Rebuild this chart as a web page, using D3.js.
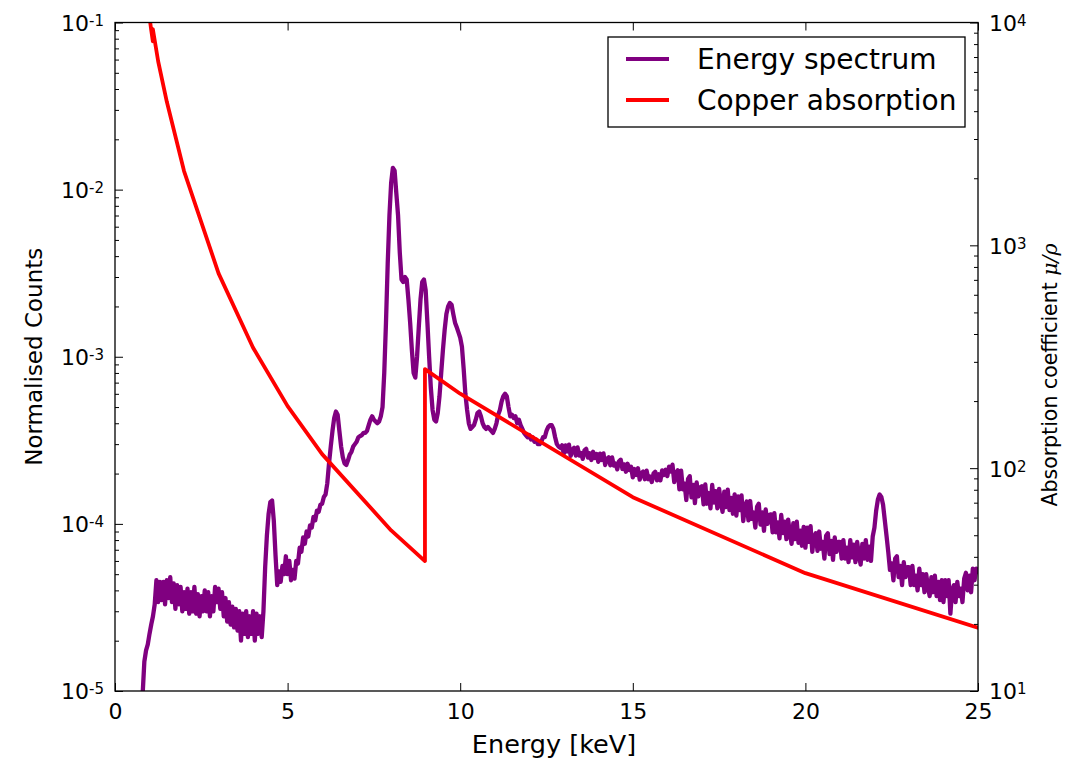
<!DOCTYPE html>
<html>
<head>
<meta charset="utf-8">
<script src="https://cdn.jsdelivr.net/npm/d3@7"></script>
<style>
  body { margin: 0; background: #fff; }
  text { font-family: "DejaVu Sans", sans-serif; fill: #000; }
</style>
</head>
<body>
<svg id="chart" width="1084" height="760"></svg>
<script>
// Energy spectrum: channel grid starts at 0.80 keV with 0.05 keV bins.
const energyStart = 0.8;
const energyStep = 0.05;
// Normalised counts per bin, one row per keV
const spectrumCounts = [
  0.95e-5, 1.5e-5, 1.75e-5, 1.9e-5,
  2.2e-5, 2.5e-5, 2.8e-5, 3.3e-5, 4.6e-5, 3.4e-5, 4.5e-5, 3.5e-5, 4.5e-5, 3.3e-5, 4.6e-5, 3.6e-5, 4.8e-5, 3.4e-5, 4.4e-5, 3.1e-5, 4.3e-5, 3.3e-5, 4.2e-5, 3.0e-5,
  3.9e-5, 3.1e-5, 4.1e-5, 2.9e-5, 3.9e-5, 3.0e-5, 4.2e-5, 2.9e-5, 3.8e-5, 2.8e-5, 3.7e-5, 3.0e-5, 4.0e-5, 3.0e-5, 3.9e-5, 2.8e-5, 3.7e-5, 3.0e-5, 4.2e-5, 3.4e-5,
  4.1e-5, 3.1e-5, 3.9e-5, 2.8e-5, 3.6e-5, 2.6e-5, 3.4e-5, 2.5e-5, 3.2e-5, 2.4e-5, 3.1e-5, 2.3e-5, 3.0e-5, 2.0e-5, 2.9e-5, 2.2e-5, 3.0e-5, 2.1e-5, 2.8e-5, 2.2e-5,
  3.0e-5, 2.0e-5, 2.9e-5, 2.2e-5, 2.8e-5, 2.1e-5, 3.0e-5, 5.5e-5, 8.5e-5, 1.15e-4, 1.35e-4, 1.38e-4, 1.05e-4, 6.5e-5, 4.3e-5, 5.2e-5, 4.5e-5, 5.6e-5, 5.0e-5, 6.4e-5,
  5.0e-5, 6.0e-5, 4.6e-5, 5.3e-5, 4.7e-5, 6.0e-5, 5.8e-5, 7.2e-5, 6.8e-5, 8.3e-5, 7.6e-5, 9.0e-5, 8.4e-5, 9.8e-5, 9.5e-5, 1.1e-4, 1.05e-4, 1.2e-4, 1.18e-4, 1.3e-4,
  1.32e-4, 1.45e-4, 1.5e-4, 1.75e-4, 2.3e-4, 2.9e-4, 3.6e-4, 4.3e-4, 4.7e-4, 4.5e-4, 3.6e-4, 2.9e-4, 2.5e-4, 2.3e-4, 2.25e-4, 2.4e-4, 2.6e-4, 2.7e-4, 2.9e-4, 3.0e-4,
  3.1e-4, 3.3e-4, 3.35e-4, 3.4e-4, 3.5e-4, 3.5e-4, 3.6e-4, 3.9e-4, 4.2e-4, 4.4e-4, 4.2e-4, 4.1e-4, 4.0e-4, 4.1e-4, 4.4e-4, 5.0e-4, 8.0e-4, 1.6e-3, 3.6e-3, 7.0e-3,
  1.1e-2, 1.35e-2, 1.3e-2, 9.5e-3, 7.0e-3, 4.2e-3, 2.9e-3, 2.8e-3, 3.0e-3, 2.9e-3, 2.2e-3, 1.6e-3, 1.1e-3, 8.0e-4, 7.5e-4, 1.0e-3, 1.5e-3, 2.2e-3, 2.8e-3, 2.9e-3,
  2.5e-3, 1.6e-3, 1.0e-3, 6.5e-4, 4.8e-4, 4.2e-4, 4.1e-4, 4.6e-4, 5.8e-4, 8.0e-4, 1.1e-3, 1.45e-3, 1.8e-3, 2.0e-3, 2.1e-3, 2.05e-3, 1.8e-3, 1.6e-3, 1.5e-3, 1.4e-3,
  1.3e-3, 1.15e-3, 8.5e-4, 6.0e-4, 4.8e-4, 4.0e-4, 3.7e-4, 3.8e-4, 3.9e-4, 4.2e-4, 4.6e-4, 4.7e-4, 4.4e-4, 4.0e-4, 3.8e-4, 3.7e-4, 3.8e-4, 3.7e-4, 3.6e-4, 3.5e-4,
  3.7e-4, 4.0e-4, 4.5e-4, 4.8e-4, 5.4e-4, 5.8e-4, 6.0e-4, 5.8e-4, 5.0e-4, 4.4e-4, 4.5e-4, 4.3e-4, 4.4e-4, 4.0e-4, 4.2e-4, 3.9e-4, 3.7e-4, 3.5e-4, 3.4e-4, 3.3e-4,
  3.4e-4, 3.2e-4, 3.3e-4, 3.1e-4, 3.2e-4, 3.0e-4, 3.0e-4, 3.1e-4, 3.3e-4, 3.3e-4, 3.6e-4, 3.8e-4, 3.9e-4, 3.9e-4, 3.7e-4, 3.3e-4, 3.0e-4, 2.9e-4, 2.85e-4, 2.95e-4,
  2.63e-4, 2.95e-4, 2.71e-4, 2.98e-4, 2.55e-4, 2.78e-4, 2.85e-4, 2.56e-4, 2.87e-4, 2.56e-4, 2.65e-4, 2.45e-4, 2.75e-4, 2.81e-4, 2.49e-4, 2.65e-4, 2.41e-4, 2.70e-4, 2.48e-4, 2.62e-4,
  2.35e-4, 2.63e-4, 2.41e-4, 2.64e-4, 2.25e-4, 2.45e-4, 2.50e-4, 2.24e-4, 2.50e-4, 2.23e-4, 2.30e-4, 2.12e-4, 2.37e-4, 2.42e-4, 2.13e-4, 2.27e-4, 2.05e-4, 2.29e-4, 2.10e-4, 2.20e-4,
  1.90e-4, 2.13e-4, 1.96e-4, 2.15e-4, 1.84e-4, 2.01e-4, 2.06e-4, 1.85e-4, 2.08e-4, 1.85e-4, 1.92e-4, 1.78e-4, 2.00e-4, 2.05e-4, 1.82e-4, 1.98e-4, 1.82e-4, 2.09e-4, 1.96e-4, 2.11e-4,
  1.93e-4, 2.20e-4, 2.06e-4, 2.26e-4, 1.78e-4, 2.02e-4, 2.09e-4, 1.61e-4, 2.08e-4, 1.61e-4, 1.74e-4, 1.39e-4, 1.86e-4, 1.93e-4, 1.44e-4, 1.71e-4, 1.33e-4, 1.77e-4, 1.46e-4, 1.65e-4,
  1.68e-4, 1.31e-4, 1.72e-4, 1.32e-4, 1.53e-4, 1.24e-4, 1.71e-4, 1.34e-4, 1.57e-4, 1.24e-4, 1.62e-4, 1.35e-4, 1.18e-4, 1.56e-4, 1.26e-4, 1.60e-4, 1.21e-4, 1.43e-4, 1.15e-4, 1.50e-4,
  1.12e-4, 1.46e-4, 1.21e-4, 1.48e-4, 1.04e-4, 1.28e-4, 1.36e-4, 1.05e-4, 1.37e-4, 1.07e-4, 1.17e-4, 9.5e-5, 1.27e-4, 1.32e-4, 9.9e-5, 1.17e-4, 9.1e-5, 1.22e-4, 1.0e-4, 1.13e-4,
  1.14e-4, 8.9e-5, 1.16e-4, 8.9e-5, 1.02e-4, 8.2e-5, 1.13e-4, 8.8e-5, 1.03e-4, 8.1e-5, 1.06e-4, 8.8e-5, 7.6e-5, 1.01e-4, 8.1e-5, 1.03e-4, 7.7e-5, 9.1e-5, 7.4e-5, 9.6e-5,
  7.2e-5, 9.5e-5, 7.8e-5, 9.7e-5, 6.8e-5, 8.4e-5, 8.8e-5, 6.9e-5, 9.0e-5, 7.1e-5, 7.8e-5, 6.2e-5, 8.5e-5, 8.8e-5, 6.6e-5, 7.9e-5, 6.1e-5, 8.3e-5, 6.8e-5, 7.8e-5,
  7.8e-5, 6.2e-5, 8.0e-5, 6.2e-5, 7.2e-5, 5.9e-5, 8.0e-5, 6.3e-5, 7.5e-5, 5.9e-5, 7.8e-5, 6.5e-5, 5.7e-5, 7.6e-5, 6.2e-5, 8.0e-5, 6.1e-5, 7.3e-5, 6.0e-5, 8.4e-5,
  9.5e-5, 1.2e-4, 1.4e-4, 1.5e-4, 1.45e-4, 1.3e-4, 1.05e-4, 8.5e-5, 6.8e-5, 5.3e-5, 5.8e-5, 4.6e-5, 6.2e-5, 6.4e-5, 4.8e-5, 5.6e-5, 4.3e-5, 5.9e-5, 4.8e-5, 5.5e-5,
  5.5e-5, 4.3e-5, 5.6e-5, 4.3e-5, 4.9e-5, 4.0e-5, 5.4e-5, 4.3e-5, 5.0e-5, 3.9e-5, 5.0e-5, 4.2e-5, 3.7e-5, 4.8e-5, 3.9e-5, 4.9e-5, 3.7e-5, 4.5e-5, 3.5e-5, 4.6e-5,
  3.4e-5, 4.6e-5, 3.7e-5, 4.6e-5, 2.9e-5, 4.0e-5, 4.3e-5, 3.4e-5, 4.5e-5, 3.7e-5, 4.1e-5, 3.4e-5, 4.7e-5, 5.1e-5, 4.0e-5, 4.9e-5, 3.9e-5, 5.4e-5, 4.6e-5, 5.4e-5,
  5.0e-5
];

// Copper mass attenuation coefficient (cm^2/g) with the L1 and K edges
const absorptionEnergy = [1.0, 1.04695, 1.0961, 1.0961, 1.25, 1.5, 2.0, 3.0, 4.0, 5.0, 6.0, 8.0, 8.9789, 8.9789, 10.0, 15.0, 20.0, 30.0];
const absorptionCoeff = [10570, 9307, 8242, 9347, 6701, 4418, 2154, 748.8, 347.3, 189.9, 115.6, 52.55, 38.29, 278.4, 215.9, 74.05, 33.79, 10.92];

const energyTicks = [0, 5, 10, 15, 20, 25];
const countTicks = [1e-5, 1e-4, 1e-3, 1e-2, 1e-1];
const muTicks = [1e1, 1e2, 1e3, 1e4];

const seriesNames = ["Energy spectrum", "Copper absorption"];
const seriesColors = ["#800080", "#ff0000"];

const plot = { left: 115, right: 978, top: 22.5, bottom: 691 };

const svg = d3.select("#chart");

const x = d3.scaleLinear().domain([0, 25]).range([plot.left, plot.right]);
const yCounts = d3.scaleLog().domain([1e-5, 1e-1]).range([plot.bottom, plot.top]);
const yMu = d3.scaleLog().domain([1e1, 1e4]).range([plot.bottom, plot.top]);

svg.append("defs").append("clipPath").attr("id", "plot-clip")
  .append("rect")
  .attr("x", plot.left).attr("y", plot.top)
  .attr("width", plot.right - plot.left).attr("height", plot.bottom - plot.top);

const spectrum = spectrumCounts.map((c, i) => [energyStart + i * energyStep, c]);
const absorption = absorptionEnergy.map((e, i) => [e, absorptionCoeff[i]]);

const marks = svg.append("g").attr("clip-path", "url(#plot-clip)");

marks.append("path")
  .datum(spectrum)
  .attr("fill", "none")
  .attr("stroke", seriesColors[0])
  .attr("stroke-width", 4.3)
  .attr("stroke-linejoin", "round")
  .attr("d", d3.line().x(d => x(d[0])).y(d => yCounts(d[1])));

marks.append("path")
  .datum(absorption)
  .attr("fill", "none")
  .attr("stroke", seriesColors[1])
  .attr("stroke-width", 3.8)
  .attr("stroke-linejoin", "round")
  .attr("d", d3.line().x(d => x(d[0])).y(d => yMu(d[1])));

// Power-of-ten label: "10" with a raised exponent
function powerLabel(text, v) {
  const exp = Math.round(Math.log10(v));
  text.text(null);
  text.append("tspan").text("10");
  text.append("tspan").attr("dy", "-0.33em").attr("font-size", "15px").text(String(exp));
}

function styleAxis(g) {
  g.select(".domain").remove();
  g.selectAll(".tick line").attr("stroke", "#000").attr("stroke-width", 1);
}

// Bottom and top energy axes, ticks pointing inward
const xBottom = svg.append("g")
  .attr("transform", `translate(0,${plot.bottom})`)
  .call(d3.axisBottom(x).tickValues(energyTicks).tickSize(-8).tickPadding(12).tickFormat(d3.format("d")))
  .call(styleAxis);
xBottom.selectAll(".tick text").attr("font-size", 22).attr("font-family", "DejaVu Sans");

svg.append("g")
  .attr("transform", `translate(0,${plot.top})`)
  .call(d3.axisTop(x).tickValues(energyTicks).tickSize(-8).tickFormat(""))
  .call(styleAxis);

// Left counts axis (log), major and minor ticks
const countMinor = yCounts.ticks().filter(v => !countTicks.some(m => Math.abs(m - v) / m < 1e-9));
svg.append("g")
  .attr("transform", `translate(${plot.left},0)`)
  .call(d3.axisLeft(yCounts).tickValues(countMinor).tickSize(-4).tickFormat(""))
  .call(styleAxis);
const yLeft = svg.append("g")
  .attr("transform", `translate(${plot.left},0)`)
  .call(d3.axisLeft(yCounts).tickValues(countTicks).tickSize(-8).tickPadding(11).tickFormat(""))
  .call(styleAxis);
yLeft.selectAll(".tick text")
  .attr("font-size", 22).attr("font-family", "DejaVu Sans")
  .attr("dy", "0.36em")
  .each(function (d) { powerLabel(d3.select(this), d); });

// Right absorption axis (log), major and minor ticks
const muMinor = yMu.ticks().filter(v => !muTicks.some(m => Math.abs(m - v) / m < 1e-9));
svg.append("g")
  .attr("transform", `translate(${plot.right},0)`)
  .call(d3.axisRight(yMu).tickValues(muMinor).tickSize(-4).tickFormat(""))
  .call(styleAxis);
const yRight = svg.append("g")
  .attr("transform", `translate(${plot.right},0)`)
  .call(d3.axisRight(yMu).tickValues(muTicks).tickSize(-8).tickPadding(11).tickFormat(""))
  .call(styleAxis);
yRight.selectAll(".tick text")
  .attr("font-size", 22).attr("font-family", "DejaVu Sans")
  .attr("dy", "0.36em")
  .each(function (d) { powerLabel(d3.select(this), d); });

// Frame
svg.append("rect")
  .attr("x", plot.left).attr("y", plot.top)
  .attr("width", plot.right - plot.left).attr("height", plot.bottom - plot.top)
  .attr("fill", "none").attr("stroke", "#000").attr("stroke-width", 1.3);

// Axis titles
svg.append("text")
  .attr("x", 554).attr("y", 753)
  .attr("text-anchor", "middle").attr("font-size", 25.5)
  .text("Energy [keV]");

svg.append("text")
  .attr("transform", `translate(42,${(plot.top + plot.bottom) / 2}) rotate(-90)`)
  .attr("text-anchor", "middle").attr("font-size", 23)
  .text("Normalised Counts");

const rightTitle = svg.append("text")
  .attr("transform", `translate(1057,375) rotate(-90)`)
  .attr("text-anchor", "middle").attr("font-size", 20.5);
rightTitle.append("tspan").text("Absorption coefficient ");
rightTitle.append("tspan").attr("font-style", "italic").attr("font-family", "DejaVu Serif").text("μ/ρ");

// Legend
const legend = svg.append("g");
legend.append("rect")
  .attr("x", 608).attr("y", 37).attr("width", 357).attr("height", 90)
  .attr("fill", "#fff").attr("stroke", "#000").attr("stroke-width", 1.3);
const legendRows = legend.selectAll("g.row")
  .data(seriesNames)
  .join("g").attr("class", "row")
  .attr("transform", (d, i) => `translate(0,${59 + i * 41})`);
legendRows.append("line")
  .attr("x1", 626).attr("x2", 669).attr("y1", 0).attr("y2", 0)
  .attr("stroke", (d, i) => seriesColors[i]).attr("stroke-width", 3.8);
legendRows.append("text")
  .attr("x", 697).attr("y", 0).attr("dy", "0.35em")
  .attr("font-size", 28)
  .text(d => d);
</script>
</body>
</html>
